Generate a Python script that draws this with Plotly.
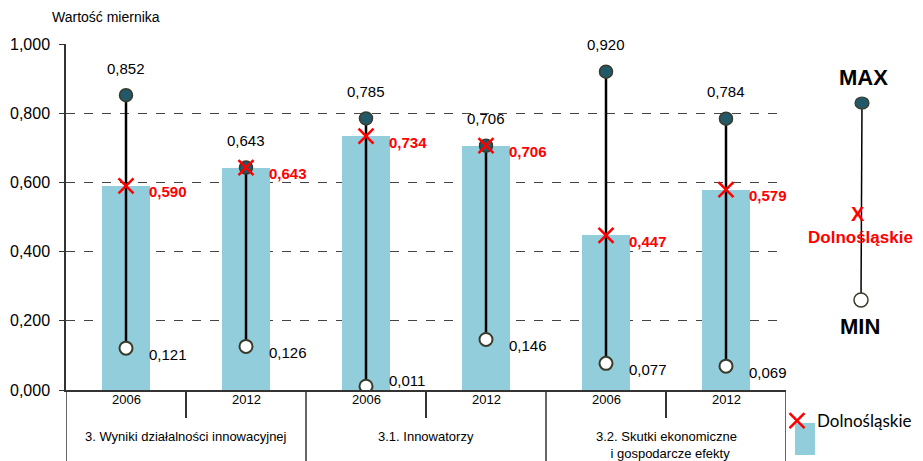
import plotly.graph_objects as go

# Data
groups = ["3. Wyniki działalności innowacyjnej", "3.1. Innowatorzy",
          "3.2. Skutki ekonomiczne<br>  i gospodarcze efekty"]
years = ["2006", "2012", "2006", "2012", "2006", "2012"]
max_vals = [0.852, 0.643, 0.785, 0.706, 0.920, 0.784]
min_vals = [0.121, 0.126, 0.011, 0.146, 0.077, 0.069]
region_vals = [0.590, 0.643, 0.734, 0.706, 0.447, 0.579]
y_ticks = [0, 0.2, 0.4, 0.6, 0.8, 1.0]

FONT = "Liberation Sans, Arial, sans-serif"
BAR_COLOR = "#92CDDC"
MAX_COLOR = "#215968"
RED = "#FF0000"

xs = list(range(len(years)))


def fmt(v):
    return f"{v:.3f}".replace(".", ",")


fig = go.Figure()

fig.add_trace(go.Bar(
    x=xs, y=region_vals, width=0.4,
    marker=dict(color=BAR_COLOR, line=dict(width=0)),
    showlegend=False, hoverinfo="skip"
))

# min-max whiskers
line_x, line_y = [], []
for x, lo, hi in zip(xs, min_vals, max_vals):
    line_x += [x, x, None]
    line_y += [lo, hi, None]
fig.add_trace(go.Scatter(
    x=line_x, y=line_y, mode="lines",
    line=dict(color="black", width=2.5), showlegend=False, hoverinfo="skip"
))

fig.add_trace(go.Scatter(
    x=xs, y=max_vals, mode="markers",
    marker=dict(symbol="circle", size=13, color=MAX_COLOR,
                line=dict(color="#3a3a2a", width=1.5)),
    showlegend=False
))
fig.add_trace(go.Scatter(
    x=xs, y=min_vals, mode="markers",
    marker=dict(symbol="circle", size=13, color="white",
                line=dict(color="#3a3a2a", width=2)),
    showlegend=False
))
fig.add_trace(go.Scatter(
    x=xs, y=region_vals, mode="markers",
    marker=dict(symbol="x-thin-open", size=15, color=RED,
                line=dict(color=RED, width=2.5)),
    name="Dolnośląskie"
))

annotations = []
for x, hi, lo, v in zip(xs, max_vals, min_vals, region_vals):
    annotations.append(dict(x=x, y=hi, text=fmt(hi), showarrow=False,
                            yshift=27, font=dict(size=15, color="black")))
    # labels close to the axis are lifted above it
    annotations.append(dict(x=x, y=lo, text=fmt(lo), showarrow=False,
                            xanchor="left", xshift=21, yshift=6 if lo < 0.05 else -6,
                            font=dict(size=15, color="black")))
    annotations.append(dict(x=x, y=v, text="<b>" + fmt(v) + "</b>", showarrow=False,
                            xanchor="left", xshift=21, yshift=-6,
                            font=dict(size=15, color=RED)))


# screen pixel -> paper helpers (plot area spans x 66..786, y 44..390)
def px_x(p):
    return (p - 66) / 720


def px_y(p):
    return (390 - p) / 346


# category table under the axis
shapes = []
for i, yr in enumerate(years):
    annotations.append(dict(x=i, y=px_y(409), yref="paper", text=yr, showarrow=False,
                            font=dict(size=13, color="black")))
for i, g in enumerate(groups):
    annotations.append(dict(x=2 * i + 0.5, y=px_y(427), yref="paper", text=g,
                            showarrow=False, yanchor="top",
                            font=dict(size=13, color="black")))
for b in [-0.5, 0.5, 1.5, 2.5, 3.5, 4.5, 5.5]:
    full = b in (-0.5, 1.5, 3.5, 5.5)
    shapes.append(dict(type="line", xref="x", yref="paper", x0=b, x1=b,
                       y0=0, y1=px_y(470) if full else px_y(418),
                       line=dict(color="#333333", width=2 if not full else 1.5)))

# explanatory key on the right
shapes.append(dict(type="line", xref="paper", yref="paper",
                   x0=px_x(862), x1=px_x(861), y0=px_y(103), y1=px_y(300),
                   line=dict(color="black", width=1.5)))
shapes.append(dict(type="circle", xref="paper", yref="paper",
                   xsizemode="pixel", ysizemode="pixel",
                   xanchor=px_x(862), yanchor=px_y(103),
                   x0=-7, x1=7, y0=-6, y1=6,
                   fillcolor=MAX_COLOR, line=dict(color="#3a3a2a", width=1.2)))
shapes.append(dict(type="circle", xref="paper", yref="paper",
                   xsizemode="pixel", ysizemode="pixel",
                   xanchor=px_x(861), yanchor=px_y(300),
                   x0=-7, x1=7, y0=-7, y1=7,
                   fillcolor="white", line=dict(color="#3a3a2a", width=1.5)))
# legend swatch for the bars
shapes.append(dict(type="rect", xref="paper", yref="paper",
                   x0=px_x(795), x1=px_x(815), y0=px_y(423), y1=px_y(455),
                   fillcolor=BAR_COLOR, line=dict(width=0)))
key = [
    (863, 77, "<b>MAX</b>", 22, "black"),
    (858, 214, "<b>X</b>", 20, RED),
    (860, 237, "<b>Dolnośląskie</b>", 17, RED),
    (860, 326, "<b>MIN</b>", 22, "black"),
]
for kx, ky, txt, size, col in key:
    annotations.append(dict(xref="paper", yref="paper", x=px_x(kx), y=px_y(ky),
                            xanchor="center", yanchor="middle", text=txt,
                            showarrow=False, font=dict(size=size, color=col)))
annotations.append(dict(xref="paper", yref="paper", x=px_x(50), y=px_y(17),
                        text="Wartość miernika", xanchor="left", yanchor="middle",
                        showarrow=False, font=dict(size=14, color="black")))

# the page body adds an 8px offset, so the figure is 8px smaller and margins shifted
fig.update_layout(
    width=915, height=453,
    margin=dict(l=58, r=137, t=36, b=71, autoexpand=False),
    paper_bgcolor="white", plot_bgcolor="white",
    font=dict(family=FONT, size=14, color="black"),
    bargap=0,
    xaxis=dict(range=[-0.5, 5.5], showticklabels=False, showgrid=False,
               zeroline=False, showline=True, linecolor="#333333", linewidth=1.5,
               fixedrange=True),
    yaxis=dict(range=[0, 1.0], tickvals=y_ticks, ticktext=[fmt(t) for t in y_ticks],
               showgrid=True, gridcolor="#444444",
               griddash="dash", gridwidth=1, zeroline=False,
               showline=True, linecolor="#333333", linewidth=1.5,
               ticks="outside", ticklen=5, tickcolor="#333333",
               ticklabelstandoff=6,
               tickfont=dict(size=16), fixedrange=True),
    showlegend=True,
    legend=dict(x=px_x(777), y=px_y(403), xanchor="left", yanchor="top",
                font=dict(family="Lato, sans-serif", size=17, color="black"),
                bgcolor="rgba(0,0,0,0)", itemwidth=30, tracegroupgap=0),
    shapes=shapes,
    annotations=annotations,
)

fig.write_html("out.html")
